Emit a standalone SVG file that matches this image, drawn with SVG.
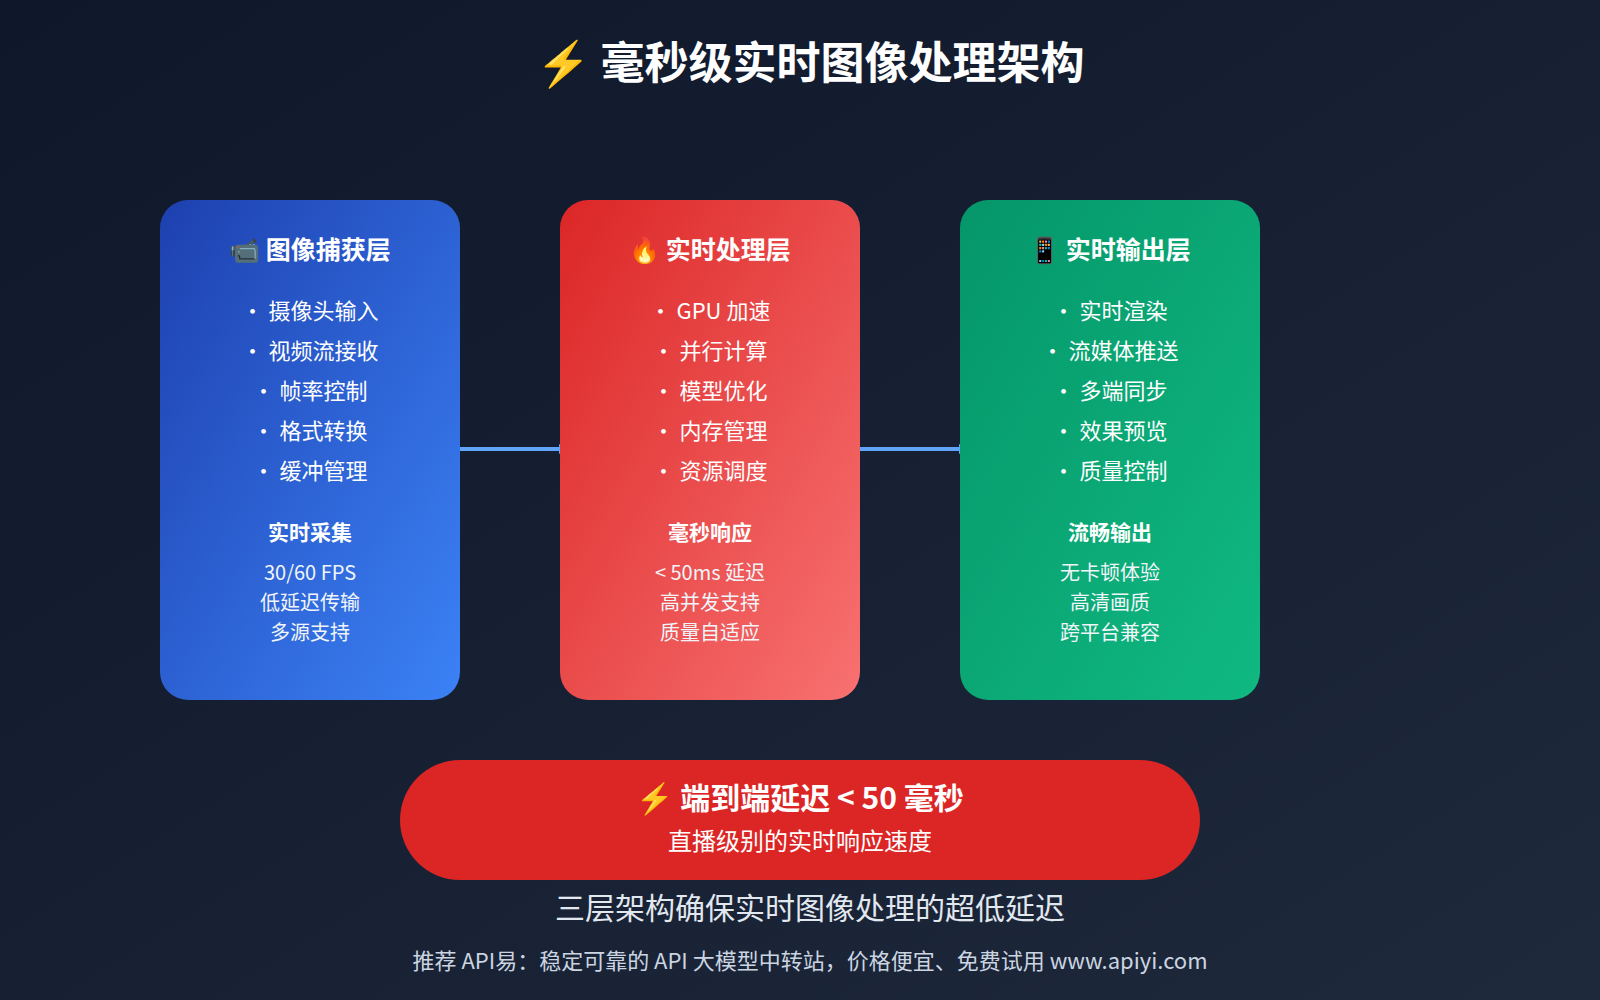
<svg xmlns="http://www.w3.org/2000/svg" width="1600" height="1000" viewBox="0 0 1600 1000">
<defs>
<linearGradient id="bg" x1="0" y1="0" x2="1" y2="1"><stop offset="0" stop-color="#0f172a"/><stop offset="1" stop-color="#1e293b"/></linearGradient>
<linearGradient id="gb" x1="0" y1="0" x2="1" y2="1"><stop offset="0" stop-color="#1e40af"/><stop offset="1" stop-color="#3b82f6"/></linearGradient>
<linearGradient id="gr" x1="0" y1="0" x2="1" y2="1"><stop offset="0" stop-color="#dc2626"/><stop offset="1" stop-color="#f87171"/></linearGradient>
<linearGradient id="gg" x1="0" y1="0" x2="1" y2="1"><stop offset="0" stop-color="#059669"/><stop offset="1" stop-color="#10b981"/></linearGradient>
<marker id="ah" markerWidth="10" markerHeight="10" refX="9" refY="5" orient="auto" markerUnits="userSpaceOnUse"><path d="M0,0 L20,5 L0,10 z" fill="#60a5fa" transform="scale(0.5,1)"/></marker>
<style>
text{font-family:"Noto Sans CJK SC","Noto Sans",sans-serif;fill:#fff;text-anchor:middle}
.t{font-size:44px;font-weight:bold}
.h{font-size:25px;font-weight:bold}
.b{font-size:22px}
.s{font-size:21px;font-weight:bold}
.l{font-size:20px;fill:#f1f5f9}
.c{stroke:#60a5fa;stroke-width:4;fill:none}
</style>
</defs>
<rect width="1600" height="1000" fill="url(#bg)"/>
<text class="t" x="810" y="79">⚡ 毫秒级实时图像处理架构</text>
<g id="connectors">
<line class="c" x1="460" y1="449" x2="568" y2="449" marker-end="url(#ah)"/>
<line class="c" x1="860" y1="449" x2="968" y2="449" marker-end="url(#ah)"/>
</g>
<g id="capture">
<rect x="160" y="200" width="300" height="500" rx="28" fill="url(#gb)"/>
<text class="h" x="310" y="259">📹 图像捕获层</text>
<text class="b" x="310" y="319">• 摄像头输入</text>
<text class="b" x="310" y="359">• 视频流接收</text>
<text class="b" x="310" y="399">• 帧率控制</text>
<text class="b" x="310" y="439">• 格式转换</text>
<text class="b" x="310" y="479">• 缓冲管理</text>
<text class="s" x="310" y="540">实时采集</text>
<text class="l" x="310" y="580">30/60 FPS</text>
<text class="l" x="310" y="610">低延迟传输</text>
<text class="l" x="310" y="640">多源支持</text>
</g>
<g id="process">
<rect x="560" y="200" width="300" height="500" rx="28" fill="url(#gr)"/>
<text class="h" x="710" y="259">🔥 实时处理层</text>
<text class="b" x="710" y="319">• GPU 加速</text>
<text class="b" x="710" y="359">• 并行计算</text>
<text class="b" x="710" y="399">• 模型优化</text>
<text class="b" x="710" y="439">• 内存管理</text>
<text class="b" x="710" y="479">• 资源调度</text>
<text class="s" x="710" y="540">毫秒响应</text>
<text class="l" x="710" y="580">&lt; 50ms 延迟</text>
<text class="l" x="710" y="610">高并发支持</text>
<text class="l" x="710" y="640">质量自适应</text>
</g>
<g id="output">
<rect x="960" y="200" width="300" height="500" rx="28" fill="url(#gg)"/>
<text class="h" x="1110" y="259">📱 实时输出层</text>
<text class="b" x="1110" y="319">• 实时渲染</text>
<text class="b" x="1110" y="359">• 流媒体推送</text>
<text class="b" x="1110" y="399">• 多端同步</text>
<text class="b" x="1110" y="439">• 效果预览</text>
<text class="b" x="1110" y="479">• 质量控制</text>
<text class="s" x="1110" y="540">流畅输出</text>
<text class="l" x="1110" y="580">无卡顿体验</text>
<text class="l" x="1110" y="610">高清画质</text>
<text class="l" x="1110" y="640">跨平台兼容</text>
</g>
<g id="latency">
<rect x="400" y="760" width="800" height="120" rx="60" fill="#dc2626"/>
<text x="800" y="809" style="font-size:30px;font-weight:bold">⚡ 端到端延迟 &lt; 50 毫秒</text>
<text x="800" y="850" style="font-size:24px">直播级别的实时响应速度</text>
</g>
<text x="810" y="919" style="font-size:30px;fill:#e2e8f0">三层架构确保实时图像处理的超低延迟</text>
<text x="810" y="969" style="font-size:22px;fill:#cbd5e1">推荐 API易：稳定可靠的 API 大模型中转站，价格便宜、免费试用 www.apiyi.com</text>
</svg>
